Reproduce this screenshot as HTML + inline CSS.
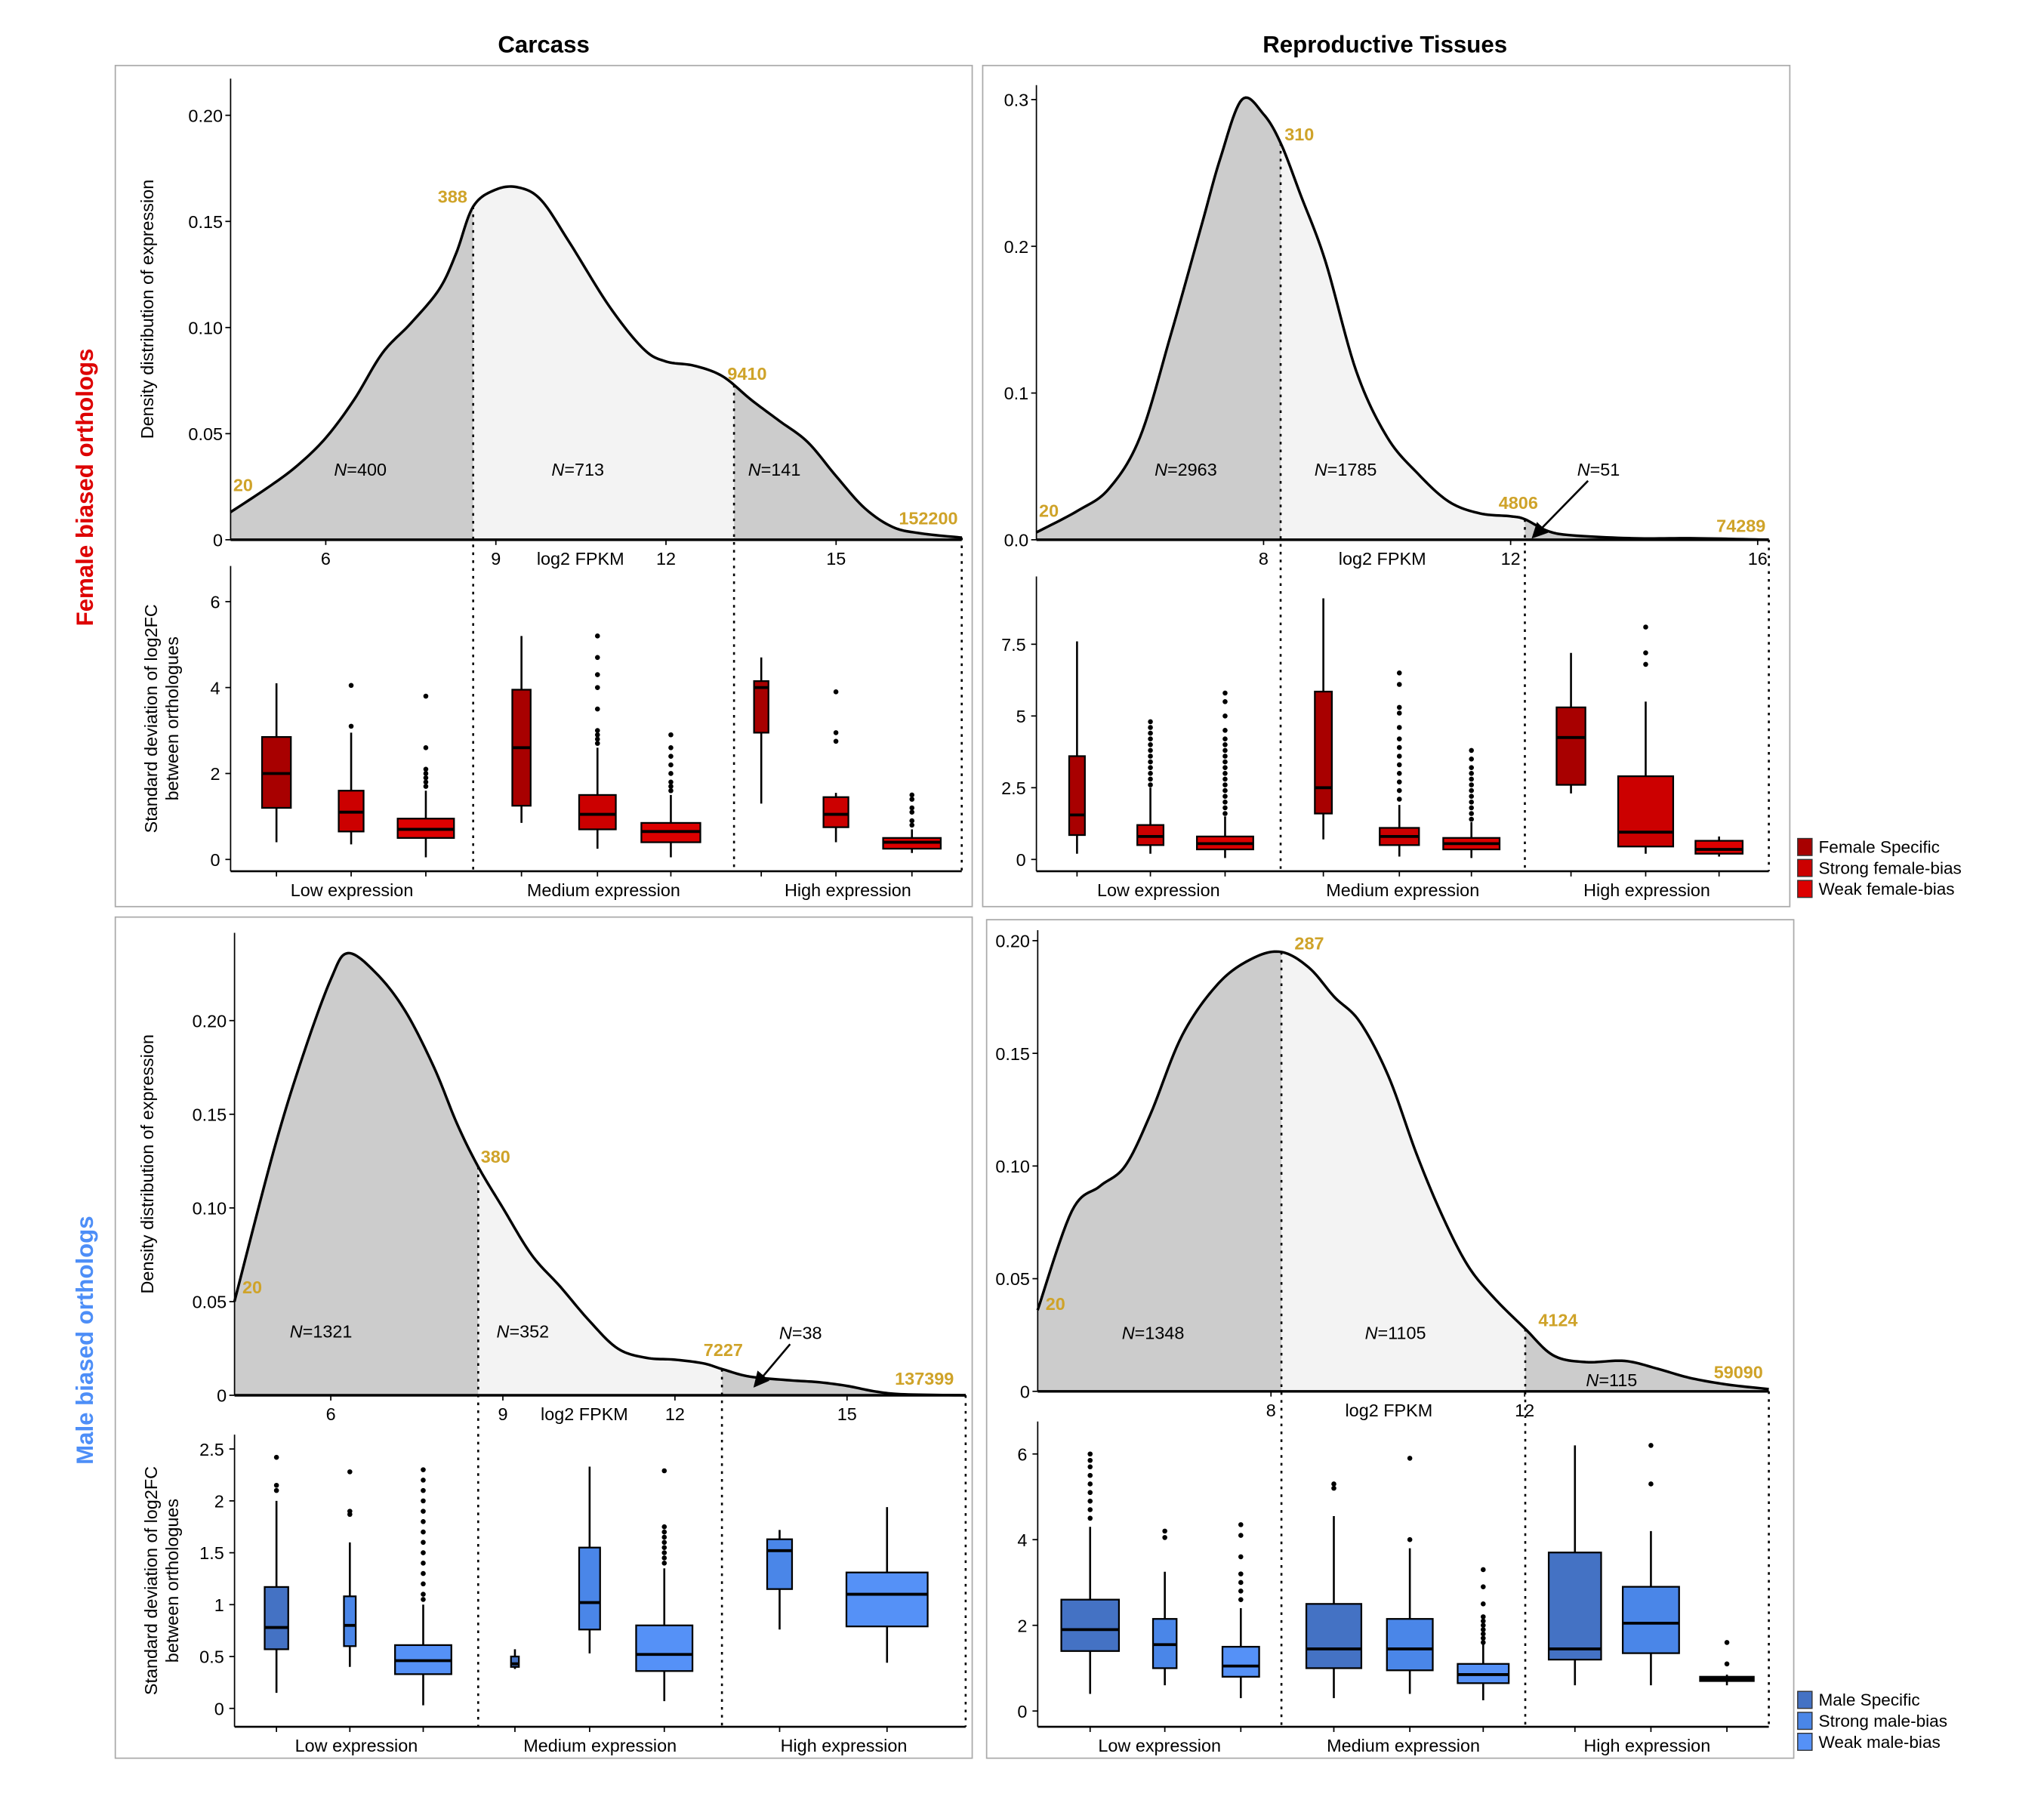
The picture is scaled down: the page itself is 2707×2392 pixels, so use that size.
<!DOCTYPE html>
<html><head><meta charset="utf-8"><style>
html,body{margin:0;padding:0;background:#fff}
svg{display:block}
text{font-family:"Liberation Sans",Arial,sans-serif}
</style></head><body>
<svg id="fig" xmlns="http://www.w3.org/2000/svg" width="2707" height="2392" viewBox="0 0 1560 1378.5" preserveAspectRatio="none">
<defs><marker id="arr" markerWidth="8" markerHeight="8" refX="7" refY="4" orient="auto"><path d="M0,0 L8,4 L0,8 z" fill="#000"/></marker></defs>
</svg>
<script>
// ---------- DATA ----------
const groupLabels=["Low expression","Medium expression","High expression"];
const femaleLegend=["Female Specific","Strong female-bias","Weak female-bias"];
const maleLegend=["Male Specific","Strong male-bias","Weak male-bias"];
// TL: carcass female
const tlDensX=[4.32,5,5.5,6,6.5,7,7.5,8,8.3,8.6,9,9.4,9.8,10.3,11,11.6,12,12.5,13,13.5,14,14.5,15,15.5,16,16.5,17.22];
const tlDensY=[0.013,0.025,0.035,0.048,0.066,0.088,0.102,0.118,0.135,0.157,0.165,0.166,0.16,0.14,0.11,0.09,0.084,0.082,0.077,0.066,0.056,0.046,0.03,0.015,0.006,0.003,0.001];
const tlCutVals=[20,388,9410,152200];
const tlCounts=[400,713,141];
const tlYTicks=[0,0.05,0.10,0.15,0.20];
const tlYTickLabels=["0","0.05","0.10","0.15","0.20"];
const tlXTicks=[6,9,12,15];
const tlBoxStats=[[1.2,2.0,2.85,0.4,4.1],[0.65,1.1,1.6,0.35,2.95],[0.5,0.7,0.95,0.05,1.6],[1.25,2.6,3.95,0.85,5.2],[0.7,1.05,1.5,0.25,2.6],[0.4,0.65,0.85,0.05,1.5],[2.95,4.0,4.15,1.3,4.7],[0.75,1.05,1.45,0.4,1.55],[0.25,0.4,0.5,0.15,0.7]];
const tlOutliers=[[],[3.1,4.05],[1.7,1.8,1.9,2.0,2.1,2.6,3.8],[],[2.7,2.8,2.9,3.0,3.5,4.0,4.3,4.7,5.2],[1.6,1.7,1.8,2.0,2.2,2.4,2.6,2.9],[],[2.75,2.95,3.9],[0.8,0.9,1.1,1.2,1.4,1.5]];
const tlBTicks=[0,2,4,6];
const tlBTickLabels=["0","2","4","6"];
// TR: reproductive female
const trDensX=[4.32,5,5.5,6,6.5,7,7.3,7.65,8,8.28,8.6,9,9.5,10,10.5,11,11.5,12,12.23,12.6,13,14,15,16.18];
const trDensY=[0.005,0.02,0.035,0.07,0.14,0.215,0.26,0.3,0.29,0.27,0.235,0.19,0.115,0.07,0.045,0.026,0.018,0.016,0.014,0.006,0.003,0.001,0.001,0.0];
const trCutVals=[20,310,4806,74289];
const trCounts=[2963,1785,51];
const trYTicks=[0,0.1,0.2,0.3];
const trYTickLabels=["0.0","0.1","0.2","0.3"];
const trXTicks=[8,12,16];
const trBoxStats=[[0.85,1.55,3.6,0.2,7.6],[0.5,0.8,1.2,0.2,2.5],[0.35,0.55,0.8,0.05,1.5],[1.6,2.5,5.85,0.7,9.1],[0.5,0.8,1.1,0.1,1.9],[0.35,0.55,0.75,0.05,1.3],[2.6,4.25,5.3,2.3,7.2],[0.45,0.95,2.9,0.2,5.5],[0.2,0.35,0.65,0.1,0.8]];
const trOutliers=[[],[2.6,2.8,3.0,3.2,3.4,3.6,3.8,4.0,4.2,4.4,4.6,4.8],[1.6,1.8,2.0,2.2,2.4,2.6,2.8,3.0,3.2,3.4,3.6,3.8,4.0,4.2,4.5,5.0,5.5,5.8],[],[2.1,2.4,2.7,3.0,3.3,3.6,3.9,4.2,4.6,5.1,5.3,6.1,6.5],[1.4,1.6,1.8,2.0,2.2,2.4,2.6,2.8,3.0,3.2,3.5,3.8],[],[6.8,7.2,8.1],[]];
const trBTicks=[0,2.5,5,7.5];
const trBTickLabels=["0","2.5","5","7.5"];
// BL: carcass male
const blDensX=[4.32,5,5.5,6,6.3,6.8,7.3,7.8,8.2,8.57,9,9.5,10,10.5,11,11.5,12,12.5,12.82,13.3,14,14.5,15,15.5,16,17.07];
const blDensY=[0.05,0.13,0.18,0.222,0.236,0.225,0.205,0.175,0.145,0.122,0.1,0.075,0.058,0.04,0.025,0.02,0.019,0.017,0.014,0.01,0.008,0.007,0.005,0.002,0.0005,0.0];
const blCutVals=[20,380,7227,137399];
const blCounts=[1321,352,38];
const blYTicks=[0,0.05,0.10,0.15,0.20];
const blYTickLabels=["0","0.05","0.10","0.15","0.20"];
const blXTicks=[6,9,12,15];
const blBoxStats=[[0.57,0.78,1.17,0.15,2.0],[0.6,0.8,1.08,0.4,1.6],[0.33,0.46,0.61,0.03,1.0],[0.4,0.43,0.5,0.38,0.57],[0.76,1.02,1.55,0.53,2.33],[0.36,0.52,0.8,0.07,1.35],[1.15,1.52,1.63,0.76,1.72],[0.79,1.1,1.31,0.44,1.94]];
const blOutliers=[[2.1,2.15,2.42],[1.87,1.9,2.28],[1.05,1.1,1.2,1.3,1.4,1.5,1.6,1.7,1.8,1.9,2.0,2.1,2.2,2.3],[],[],[1.4,1.45,1.5,1.55,1.6,1.65,1.7,1.75,2.29],[],[]];
const blBTicks=[0,0.5,1,1.5,2,2.5];
const blBTickLabels=["0","0.5","1","1.5","2","2.5"];
// BR: reproductive male
const brDensX=[4.32,4.86,5.3,5.7,6.1,6.6,7.17,7.7,8.16,8.6,9.0,9.4,9.85,10.3,10.7,11.1,11.5,12.0,12.45,12.96,13.58,14.1,14.6,15.2,15.85];
const brDensY=[0.036,0.08,0.091,0.1,0.123,0.158,0.181,0.192,0.195,0.188,0.175,0.164,0.14,0.105,0.078,0.056,0.042,0.028,0.016,0.013,0.0135,0.01,0.006,0.003,0.001];
const brCutVals=[20,287,4124,59090];
const brCounts=[1348,1105,115];
const brYTicks=[0,0.05,0.10,0.15,0.20];
const brYTickLabels=["0","0.05","0.10","0.15","0.20"];
const brXTicks=[8,12];
const brBoxStats=[[1.4,1.9,2.6,0.4,4.3],[1.0,1.55,2.15,0.6,3.25],[0.8,1.05,1.5,0.3,2.4],[1.0,1.45,2.5,0.3,4.55],[0.95,1.45,2.15,0.4,3.8],[0.65,0.85,1.1,0.25,1.55],[1.2,1.45,3.7,0.6,6.2],[1.35,2.05,2.9,0.6,4.2],[0.7,0.75,0.8,0.6,0.85]];
const brOutliers=[[4.5,4.7,4.9,5.1,5.3,5.5,5.7,5.85,6.0],[4.05,4.2],[2.6,2.8,3.0,3.2,3.6,4.1,4.35],[5.2,5.3],[4.0,5.9],[1.6,1.7,1.8,1.9,2.0,2.1,2.2,2.5,2.9,3.3],[],[5.3,6.2],[1.1,1.6]];
const brBTicks=[0,2,4,6];
const brBTickLabels=["0","2","4","6"];

// ---------- LAYOUT ----------
const svg=document.getElementById('fig');
const NS='http://www.w3.org/2000/svg';
function mk(tag,attrs,parent){const e=document.createElementNS(NS,tag);for(const k in attrs)e.setAttribute(k,attrs[k]);(parent||svg).appendChild(e);return e;}
function txt(x,y,s,o,parent){const t=mk('text',Object.assign({x:x,y:y,'font-size':13.5,fill:'#000'},o||{}),parent);t.textContent=s;return t;}
const GOLD='#cfa329';
const femColors=['#a80000','#cc0000','#dd0000'];
const maleColors=['#4472c4','#4a86e8','#5591f7'];

// titles
let t;
t=txt(415,40,"Carcass",{'font-size':18,'font-weight':'bold','text-anchor':'middle'});

t=txt(1057,40,"Reproductive Tissues",{'font-size':18,'font-weight':'bold','text-anchor':'middle'});

t=txt(0,0,"Female biased orthologs",{'font-size':18,'font-weight':'bold','fill':'#dd0000','text-anchor':'middle',transform:'translate(71,372) rotate(-90)'});

t=txt(0,0,"Male biased orthologs",{'font-size':18,'font-weight':'bold','fill':'#4d8ef7','text-anchor':'middle',transform:'translate(71,1023) rotate(-90)'});


function catmull(xs,ys){const pts=[];const n=xs.length;for(let i=0;i<n-1;i++){const x0=xs[Math.max(i-1,0)],y0=ys[Math.max(i-1,0)],x1=xs[i],y1=ys[i],x2=xs[i+1],y2=ys[i+1],x3=xs[Math.min(i+2,n-1)],y3=ys[Math.min(i+2,n-1)];for(let s=0;s<12;s++){const u=s/12,u2=u*u,u3=u2*u;const f=(a,b,c,d)=>0.5*(2*b+(-a+c)*u+(2*a-5*b+4*c-d)*u2+(-a+3*b-3*c+d)*u3);pts.push([f(x0,x1,x2,x3),Math.max(0,f(y0,y1,y2,y3))]);}}pts.push([xs[n-1],ys[n-1]]);return pts;}

let clipId=0;
function panel(cfg){
  const g=mk('g',{});
  
  
  const fr=mk('rect',{x:cfg.frame[0],y:cfg.frame[1],width:cfg.frame[2]-cfg.frame[0],height:cfg.frame[3]-cfg.frame[1],fill:'none',stroke:'#aaa','stroke-width':1},g);
  
  const d=cfg.dens, X0=cfg.x0, X1=cfg.x1;
  const lo=Math.log2(d.cuts[0]), hi=Math.log2(d.cuts[3]);
  const sx=v=>X0+(v-lo)/(hi-lo)*(X1-X0);
  const sy=v=>d.y0-v*d.ppu;
  const pts=catmull(d.xs,d.ys);
  const curveAt=v=>{for(let i=0;i<pts.length-1;i++){if(pts[i][0]<=v&&pts[i+1][0]>=v){const f=(v-pts[i][0])/((pts[i+1][0]-pts[i][0])||1);return pts[i][1]+f*(pts[i+1][1]-pts[i][1]);}}return 0;};
  let line='';pts.forEach((p,i)=>{line+=(i?'L':'M')+sx(p[0]).toFixed(2)+','+sy(p[1]).toFixed(2);});
  const area=line+'L'+sx(pts[pts.length-1][0])+','+d.y0+'L'+sx(pts[0][0])+','+d.y0+'Z';
  const fills=['#cccccc','#f3f3f3','#cccccc'];
  for(let r=0;r<3;r++){
    const id='c'+(clipId++);
    const cp=mk('clipPath',{id:id},g);
    const a=sx(Math.log2(d.cuts[r])),b=sx(Math.log2(d.cuts[r+1]));
    mk('rect',{x:a,y:0,width:b-a,height:2000},cp);
    const ar=mk('path',{d:area,fill:fills[r],'clip-path':'url(#'+id+')'},g);
    
  }
  const cv=mk('path',{d:line,fill:'none',stroke:'#000','stroke-width':2},g);
  
  // axes
  const ya=mk('line',{x1:X0,x2:X0,y1:d.top,y2:d.y0,stroke:'#000','stroke-width':1},g);
  
  const xa=mk('line',{x1:X0,x2:X1,y1:d.y0,y2:d.y0,stroke:'#000','stroke-width':2},g);
  
  d.yt.forEach((v,i)=>{mk('line',{x1:X0-4,x2:X0,y1:sy(v),y2:sy(v),stroke:'#000'},g);const l=txt(X0-6,sy(v)+5,d.ytl[i],{'text-anchor':'end'},g);});
  d.xt.forEach(v=>{mk('line',{x1:sx(v),x2:sx(v),y1:d.y0,y2:d.y0+4,stroke:'#000'},g);const l=txt(sx(v),d.y0+19,String(v),{'text-anchor':'middle'},g);});
  const xl=txt(cfg.xlabX,d.y0+19,"log2 FPKM",{'text-anchor':'middle'},g);
  
  if(cfg.yTitle){const yl=txt(0,0,"Density distribution of expression",{'text-anchor':'middle',transform:'translate('+cfg.yTitleX+','+((d.top+d.y0)/2)+') rotate(-90)'},g);}
  // cut labels
  d.cuts.forEach((c,i)=>{const o=cfg.cutLab[i];const l=txt(sx(Math.log2(c))+o[0],sy(curveAt(Math.log2(c)))+o[1],String(c),{'font-weight':'bold',fill:GOLD,'text-anchor':o[2]||'start'},g);});
  // N labels
  d.counts.forEach((n,i)=>{const p=cfg.nLab[i];const l=mk('text',{x:p[0],y:p[1],'font-size':13.5,'text-anchor':'middle'},g);const a=mk('tspan',{'font-style':'italic'},l);a.textContent='N';const b=mk('tspan',{},l);b.textContent='='+n;
    if(p[2]){const ar=mk('line',{x1:p[0]-8,y1:p[1]+4,x2:p[2],y2:p[3],stroke:'#000','stroke-width':1.5,'marker-end':'url(#arr)'},g);}
  });
  // box plot
  const B=cfg.box;
  const by=v=>B.y0-v*B.ppu;
  const bya=mk('line',{x1:X0,x2:X0,y1:B.top,y2:B.bot,stroke:'#000'},g);
  
  const bxa=mk('line',{x1:X0,x2:X1,y1:B.bot,y2:B.bot,stroke:'#000','stroke-width':1.5},g);
  
  B.yt.forEach((v,i)=>{mk('line',{x1:X0-4,x2:X0,y1:by(v),y2:by(v),stroke:'#000'},g);const l=txt(X0-8,by(v)+5,B.ytl[i],{'text-anchor':'end'},g);});
  if(cfg.yTitle){const yl=mk('text',{'font-size':13.5,'text-anchor':'middle',transform:'translate('+(cfg.yTitleX+3)+','+((B.top+B.bot)/2)+') rotate(-90)'},g);const a=mk('tspan',{x:0,y:0},yl);a.textContent='Standard deviation of log2FC';const b=mk('tspan',{x:0,y:16},yl);b.textContent='between orthologues';}
  // cut lines
  [1,2,3].forEach(i=>{const v=Math.log2(d.cuts[i]);const x=sx(v);const l=mk('line',{x1:x,x2:x,y1:sy(curveAt(v)),y2:B.bot,stroke:'#000','stroke-width':1.5,'stroke-dasharray':'2,4'},g);});
  // group labels
  [0,1,2].forEach(i=>{const a=sx(Math.log2(d.cuts[i])),b=sx(Math.log2(d.cuts[i+1]));const l=txt((a+b)/2+(cfg.glOff[i]||0),B.bot+19,groupLabels[i],{'text-anchor':'middle'},g);});
  // boxes
  B.stats.forEach((s,i)=>{
    const cx=B.cx[i],w=B.w[i],col=cfg.colors[B.kind[i]];
    const bg=mk('g',{},g);
    
    
    mk('line',{x1:cx,x2:cx,y1:by(s[3]),y2:by(s[4]),stroke:'#000','stroke-width':1.5},bg);
    mk('line',{x1:cx,x2:cx,y1:B.bot,y2:B.bot+4,stroke:'#000'},bg);
    mk('rect',{x:cx-w/2,y:by(s[2]),width:w,height:Math.max(by(s[0])-by(s[2]),1),fill:col,stroke:'#000','stroke-width':1.3},bg);
    mk('line',{x1:cx-w/2,x2:cx+w/2,y1:by(s[1]),y2:by(s[1]),stroke:'#000','stroke-width':2.2},bg);
    B.out[i].forEach(o=>{const c=mk('circle',{cx:cx,cy:by(o),r:1.9,fill:'#000'},bg);});
  });
  // legend
  if(cfg.legend){cfg.legend.labels.forEach((lab,i)=>{const y=cfg.legend.y+i*16;const r=mk('rect',{x:1372,y:y-11,width:11,height:13,fill:cfg.colors[i],stroke:'#333','stroke-width':0.8},svg);const l=txt(1388,y,lab,{'font-size':13},svg);});}
}

panel({name:'panel-carcass-female',frame:[88,50,742,692],x0:176,x1:734,xlabX:443,yTitle:true,yTitleX:117,colors:femColors,
 dens:{xs:tlDensX,ys:tlDensY,cuts:tlCutVals,counts:tlCounts,y0:412,ppu:1620,top:60,yt:tlYTicks,ytl:tlYTickLabels,xt:tlXTicks},
 cutLab:[[2,-16],[-27,-3],[-5,-4],[-48,-10]],nLab:[[275,363],[441,363],[591,363]],glOff:[0,0,0],
 box:{y0:656,ppu:32.8,top:432,bot:665,yt:tlBTicks,ytl:tlBTickLabels,stats:tlBoxStats,out:tlOutliers,cx:[211,268,325,398,456,512,581,638,696],w:[22,19,43,14,28,45,11,19,44],kind:[0,1,2,0,1,2,0,1,2]},
 legend:{y:651,labels:femaleLegend}});
panel({name:'panel-reproductive-female',frame:[750,50,1366,692],x0:791,x1:1350,xlabX:1055,yTitle:false,colors:femColors,
 dens:{xs:trDensX,ys:trDensY,cuts:trCutVals,counts:trCounts,y0:412,ppu:1120,top:65,yt:trYTicks,ytl:trYTickLabels,xt:trXTicks},
 cutLab:[[2,-12],[3,-2],[-20,-8],[-40,-6]],nLab:[[905,363],[1027,363],[1220,363,1170,410]],glOff:[0,0,0],
 box:{y0:656,ppu:21.9,top:440,bot:665,yt:trBTicks,ytl:trBTickLabels,stats:trBoxStats,out:trOutliers,cx:[822,878,935,1010,1068,1123,1199,1256,1312],w:[12,20,43,13,30,43,22,42,36],kind:[0,1,2,0,1,2,0,1,2]}});
panel({name:'panel-carcass-male',frame:[88,700,742,1342],x0:179,x1:737,xlabX:446,yTitle:true,yTitleX:117,colors:maleColors,
 dens:{xs:blDensX,ys:blDensY,cuts:blCutVals,counts:blCounts,y0:1065,ppu:1430,top:712,yt:blYTicks,ytl:blYTickLabels,xt:blXTicks},
 cutLab:[[6,-6],[2,-3],[-14,-10],[-54,-8]],nLab:[[245,1021],[399,1021],[611,1022,576,1058]],glOff:[0,0,0],
 box:{y0:1304,ppu:79.2,top:1095,bot:1318,yt:blBTicks,ytl:blBTickLabels,stats:blBoxStats,out:blOutliers,cx:[211,267,323,393,450,507,595,677],w:[18,9,43,6,16,43,19,62],kind:[0,1,2,0,1,2,1,2]}});
panel({name:'panel-reproductive-male',frame:[753,702,1369,1342],x0:792,x1:1350,xlabX:1060,yTitle:false,colors:maleColors,
 dens:{xs:brDensX,ys:brDensY,cuts:brCutVals,counts:brCounts,y0:1062,ppu:1720,top:710,yt:brYTicks,ytl:brYTickLabels,xt:brXTicks},
 cutLab:[[6,0],[10,-2],[10,-2],[-42,-10]],nLab:[[880,1022],[1065,1022],[1230,1058]],glOff:[0,0,0],
 box:{y0:1306,ppu:32.7,top:1085,bot:1318,yt:brBTicks,ytl:brBTickLabels,stats:brBoxStats,out:brOutliers,cx:[832,889,947,1018,1076,1132,1202,1260,1318],w:[44,18,28,42,35,39,40,43,41],kind:[0,1,2,0,1,2,0,1,2]},
 legend:{y:1302,labels:maleLegend}});
</script>
</body></html>
